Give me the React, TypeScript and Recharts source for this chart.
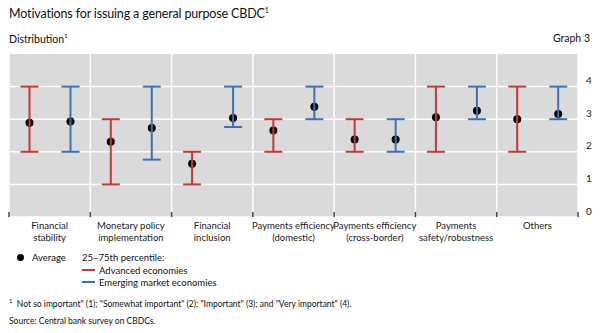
import { Bar, CartesianGrid, ComposedChart, ErrorBar, XAxis, YAxis } from "recharts";

const categories = [
  "Financial\nstability",
  "Monetary policy\nimplementation",
  "Financial\ninclusion",
  "Payments efficiency\n(domestic)",
  "Payments efficiency\n(cross-border)",
  "Payments\nsafety/robustness",
  "Others",
];
const aeAvg = [2.89, 2.31, 1.63, 2.65, 2.38, 3.06, 3.0];
const aeLow = [2, 1, 1, 2, 2, 2, 2];
const aeHigh = [4, 3, 2, 3, 3, 4, 4];
const emeAvg = [2.93, 2.73, 3.04, 3.38, 2.38, 3.26, 3.16];
const emeLow = [2, 1.76, 2.76, 3, 2, 3, 3];
const emeHigh = [4, 4, 4, 4, 3, 4, 4];
const yTicks = [0, 1, 2, 3, 4];

const RED = "#c0393b";
const BLUE = "#3e70b3";
const FONT = "Lato, 'Open Sans', sans-serif";

const data = categories.map((name, i) => ({
  name,
  ae: aeAvg[i],
  aeErr: [aeAvg[i] - aeLow[i], aeHigh[i] - aeAvg[i]],
  eme: emeAvg[i],
  emeErr: [emeAvg[i] - emeLow[i], emeHigh[i] - emeAvg[i]],
}));

function Dot(props: any) {
  const { x, y, width } = props;
  if (x == null || y == null) return <g />;
  return <circle cx={x + width / 2} cy={y} r={4} fill="#000" />;
}

function Empty() {
  return <g />;
}

// category boundaries taken from the band scale
function boundaryLines({ xAxis, offset }: any) {
  const s = xAxis && xAxis.scale;
  const apply = (v: string) =>
    typeof s === "function" ? s(v) : s && typeof s.map === "function" ? s.map(v) : undefined;
  const bw = s && typeof s.bandwidth === "function" ? s.bandwidth() : undefined;
  const xs = categories.map((c) => apply(c));
  if (bw != null && xs.every((v) => typeof v === "number" && !isNaN(v))) {
    return [...xs, (xs[xs.length - 1] as number) + bw];
  }
  const n = categories.length;
  return Array.from({ length: n + 1 }, (_, i) => offset.left + (offset.width * i) / n);
}

function CatTick(props: any) {
  const { x, y, payload, index } = props;
  const half = payload.offset || 0;
  const lines = String(payload.value).split("\n");
  return (
    <g>
      <line x1={x - half} x2={x - half} y1={y - 5} y2={y} stroke="#444" strokeWidth={1.5} />
      {index === categories.length - 1 && (
        <line x1={x + half} x2={x + half} y1={y - 5} y2={y} stroke="#444" strokeWidth={1.5} />
      )}
      <text x={x} y={y} textAnchor="middle" fontSize={9.5} fill="#222" fontFamily={FONT}>
        {lines.map((l, i) => (
          <tspan key={i} x={x} dy={i === 0 ? 12 : 11.5}>
            {l}
          </tspan>
        ))}
      </text>
    </g>
  );
}

export default function App() {
  return (
    <div
      style={{
        position: "absolute",
        left: 0,
        top: 0,
        width: 600,
        height: 333,
        background: "#fff",
        fontFamily: FONT,
        color: "#111",
      }}
    >
      <div style={{ position: "absolute", left: 9, top: 6, fontSize: 12.5, letterSpacing: -0.15 }}>
        Motivations for issuing a general purpose CBDC<sup style={{ fontSize: 7 }}>1</sup>
      </div>
      <div style={{ position: "absolute", left: 9, top: 32, fontSize: 10.5 }}>
        Distribution<sup style={{ fontSize: 6.5 }}>1</sup>
      </div>
      <div style={{ position: "absolute", right: 10, top: 32, fontSize: 10.5 }}>Graph 3</div>

      <div style={{ position: "absolute", left: 0, top: 50 }}>
        <ComposedChart
          width={600}
          height={210}
          data={data}
          margin={{ top: 4, right: 0, bottom: 0, left: 9 }}
          barCategoryGap={0}
          barGap={0}
        >
          <CartesianGrid
            fill="#dadada"
            stroke="#fff"
            strokeWidth={1.5}
            horizontalValues={yTicks}
            verticalCoordinatesGenerator={boundaryLines}
          />
          <XAxis
            dataKey="name"
            interval={0}
            axisLine={false}
            tickLine={false}
            tickSize={0}
            tickMargin={0}
            tick={<CatTick />}
            height={43}
          />
          <XAxis xAxisId="err" dataKey="name" hide />
          <YAxis
            orientation="right"
            domain={[0, 5]}
            ticks={yTicks}
            width={22}
            axisLine={false}
            tickLine={false}
            tick={{ fontSize: 10, fill: "#222", fontFamily: FONT, dy: -6 }}
          />
          <Bar xAxisId="err" dataKey="ae" shape={<Empty />} isAnimationActive={false}>
            <ErrorBar dataKey="aeErr" width={9} stroke={RED} strokeWidth={2} />
          </Bar>
          <Bar xAxisId="err" dataKey="eme" shape={<Empty />} isAnimationActive={false}>
            <ErrorBar dataKey="emeErr" width={9} stroke={BLUE} strokeWidth={2} />
          </Bar>
          <Bar dataKey="ae" shape={<Dot />} isAnimationActive={false} />
          <Bar dataKey="eme" shape={<Dot />} isAnimationActive={false} />
        </ComposedChart>
      </div>

      <div style={{ position: "absolute", left: 17, top: 252, fontSize: 9.5 }}>
        <span
          style={{
            display: "inline-block",
            width: 7,
            height: 7,
            borderRadius: 4,
            background: "#000",
            marginRight: 8,
            verticalAlign: 0,
          }}
        />
        Average
      </div>
      <div style={{ position: "absolute", left: 82, top: 252, fontSize: 9.5, lineHeight: "12.5px" }}>
        <div>25–75th percentile:</div>
        <div>
          <span style={{ display: "inline-block", width: 13, height: 2, background: RED, marginRight: 4, verticalAlign: 3 }} />
          Advanced economies
        </div>
        <div>
          <span style={{ display: "inline-block", width: 13, height: 2, background: BLUE, marginRight: 4, verticalAlign: 3 }} />
          Emerging market economies
        </div>
      </div>

      <div style={{ position: "absolute", left: 9, top: 297, fontSize: 8.5 }}>
        <sup style={{ fontSize: 6 }}>1</sup>&nbsp; Not so important" (1); "Somewhat important" (2); "Important" (3); and "Very important" (4).
      </div>
      <div style={{ position: "absolute", left: 9, top: 316, fontSize: 8.5 }}>
        Source: Central bank survey on CBDCs.
      </div>
    </div>
  );
}
